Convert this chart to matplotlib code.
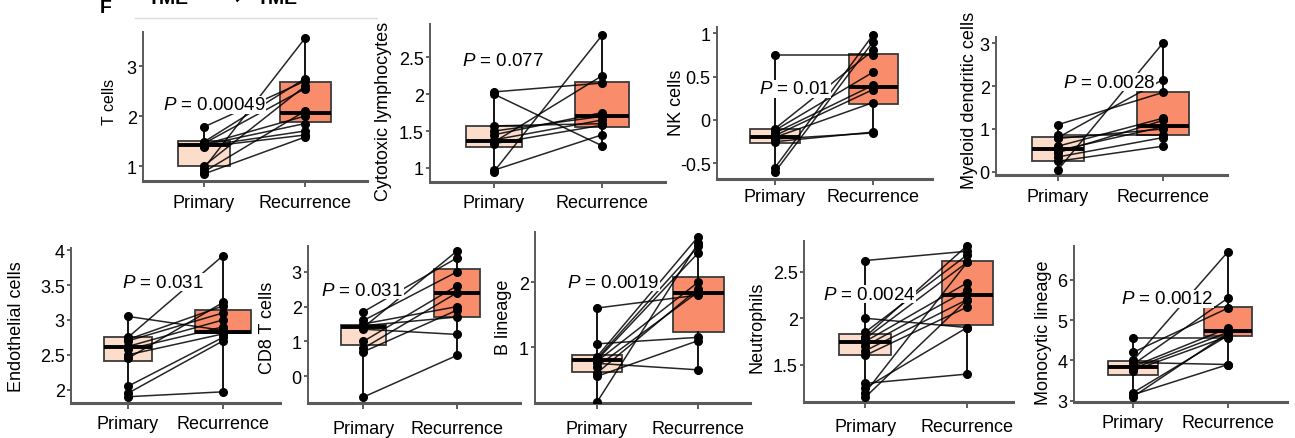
import matplotlib
matplotlib.use('Agg')
import matplotlib.pyplot as plt
from matplotlib.lines import Line2D

plt.rcParams['font.family'] = ['Liberation Sans', 'DejaVu Sans']
plt.rcParams['mathtext.fontset'] = 'custom'
plt.rcParams['mathtext.it'] = 'Liberation Sans:italic'
plt.rcParams['mathtext.rm'] = 'Liberation Sans'

# ---------------- data ----------------
groups = ['Primary', 'Recurrence']
cell_types = ['T cells', 'Cytotoxic lymphocytes', 'NK cells', 'Myeloid dendritic cells',
              'Endothelial cells', 'CD8 T cells', 'B lineage', 'Neutrophils', 'Monocytic lineage']
p_values = ['0.00049', '0.077', '0.01', '0.0028', '0.031', '0.031', '0.0019', '0.0024', '0.0012']

# paired samples (index i in primary pairs with index i in recurrence)
t_cells_primary = [1.78, 1.48, 1.45, 1.43, 1.42, 1.40, 1.38, 1.00, 0.95, 0.88, 0.84]
t_cells_recurrence = [2.70, 2.75, 2.55, 2.00, 1.85, 1.70, 1.62, 2.60, 3.56, 2.10, 1.58]
cytotoxic_primary = [2.03, 2.00, 1.57, 1.50, 1.45, 1.38, 1.35, 1.33, 0.97, 0.95]
cytotoxic_recurrence = [2.15, 1.30, 1.60, 1.70, 1.75, 1.65, 2.25, 1.58, 1.45, 2.80]
nk_primary = [0.75, -0.10, -0.12, -0.15, -0.18, -0.20, -0.22, -0.25, -0.55, -0.60]
nk_recurrence = [0.75, 0.80, 0.55, 0.40, 0.35, 0.20, -0.15, -0.14, 0.98, 0.90]
myeloid_dc_primary = [1.10, 0.85, 0.80, 0.78, 0.60, 0.50, 0.45, 0.35, 0.25, 0.05]
myeloid_dc_recurrence = [1.85, 0.85, 2.15, 1.00, 1.25, 1.05, 1.20, 0.80, 0.60, 3.00]
endothelial_primary = [3.05, 2.75, 2.72, 2.70, 2.62, 2.58, 2.50, 2.45, 2.05, 1.95, 1.90]
endothelial_recurrence = [2.85, 3.92, 3.20, 3.10, 3.00, 2.90, 2.80, 3.25, 2.75, 2.70, 1.97]
cd8_primary = [1.85, 1.60, 1.50, 1.45, 1.40, 1.35, 1.00, 0.80, 0.70, -0.60]
cd8_recurrence = [3.40, 3.00, 2.00, 1.70, 3.60, 1.20, 2.60, 2.40, 1.90, 0.60]
b_lineage_primary = [1.60, 1.05, 0.85, 0.82, 0.80, 0.78, 0.75, 0.70, 0.60, 0.55, 0.15]
b_lineage_recurrence = [1.80, 1.15, 2.70, 2.55, 2.45, 2.00, 0.65, 1.85, 1.90, 1.10, 2.60]
neutrophils_primary = [2.62, 2.00, 1.85, 1.80, 1.78, 1.75, 1.70, 1.65, 1.60, 1.30, 1.25, 1.20, 1.15]
neutrophils_recurrence = [2.72, 1.90, 2.68, 2.78, 2.60, 2.38, 2.30, 2.20, 2.12, 1.40, 1.90, 2.60, 2.20]
monocytic_primary = [4.55, 4.20, 4.00, 3.95, 3.90, 3.85, 3.80, 3.75, 3.20, 3.15, 3.10]
monocytic_recurrence = [4.55, 5.30, 6.70, 3.90, 5.55, 4.80, 4.70, 4.60, 4.62, 3.90, 4.68]

# box statistics: [q1, median, q3]
box_primary = [[1.00, 1.43, 1.50], [1.29, 1.36, 1.57], [-0.27, -0.20, -0.10], [0.26, 0.53, 0.81],
               [2.41, 2.61, 2.76], [0.91, 1.40, 1.46], [0.62, 0.80, 0.88], [1.61, 1.74, 1.83],
               [3.63, 3.83, 3.98]]
box_recurrence = [[1.88, 2.07, 2.68], [1.55, 1.71, 2.17], [0.18, 0.38, 0.76], [0.86, 1.07, 1.86],
                  [2.81, 2.83, 3.14], [1.71, 2.40, 3.09], [1.23, 1.83, 2.08], [1.93, 2.25, 2.61],
                  [4.60, 4.72, 5.32]]

y_ticks = [[1, 2, 3], [1, 1.5, 2, 2.5], [-0.5, 0, 0.5, 1], [0, 1, 2, 3],
           [2, 2.5, 3, 3.5, 4], [0, 1, 2, 3], [1, 2], [1.5, 2, 2.5], [3, 4, 5, 6]]

primary_values = [t_cells_primary, cytotoxic_primary, nk_primary, myeloid_dc_primary,
                  endothelial_primary, cd8_primary, b_lineage_primary, neutrophils_primary,
                  monocytic_primary]
recurrence_values = [t_cells_recurrence, cytotoxic_recurrence, nk_recurrence, myeloid_dc_recurrence,
                     endothelial_recurrence, cd8_recurrence, b_lineage_recurrence,
                     neutrophils_recurrence, monocytic_recurrence]

# ---------------- layout (pixels) ----------------
W, H = 1295, 439
# (x_left, x_right, y_top, y_bottom)
rects = [(143, 367, 33, 182), (430, 665, 25, 183), (717, 932, 28, 180), (996, 1227, 38, 176),
         (71, 280, 249, 404), (308, 520, 247, 404), (535, 750, 233, 404), (804, 1013, 242, 403),
         (1074, 1287, 247, 403)]
xlims = [(-0.60, 1.61), (-0.59, 1.58), (-0.59, 1.60), (-0.59, 1.61),
         (-0.60, 1.60), (-0.59, 1.67), (-0.61, 1.51), (-0.60, 1.45), (-0.62, 1.62)]
ylims = [(0.70, 3.68), (0.81, 2.95), (-0.68, 1.07), (-0.07, 3.14),
         (1.81, 4.03), (-0.77, 3.74), (0.14, 2.77), (1.10, 2.83), (2.97, 6.84)]
ylabel_pos = [(110, 102), (384, 111), (676, 103), (969, 100),
              (17, 327), (268, 328), (503, 317), (757, 327), (1043, 333)]
ylabel_size = [11.5, 13, 13, 13, 13, 13, 13, 13, 13]
ptext_pos = [(163, 106), (462, 62), (759, 90), (1063, 83),
             (122, 283), (321, 291), (567, 283), (823, 295), (1121, 300)]
xpads = [5, 4.3, 2.8, 5, 5, 8.6, 8.6, 7.2, 4.3]
box_widths = [(0.51, 0.5), (0.51, 0.5), (0.51, 0.5), (0.5, 0.5), (0.5, 0.58),
              (0.48, 0.49), (0.5, 0.5), (0.51, 0.5), (0.52, 0.5)]

primary_color = '#FCDCCB'
recurrence_color = '#F98D6B'
spine_color = '#5a5a5a'

fig = plt.figure(figsize=(W / 100, H / 100), dpi=100)

for i in range(9):
    xl, xr, yt, yb = rects[i]
    ax = fig.add_axes([xl / W, 1 - yb / H, (xr - xl) / W, (yb - yt) / H])
    prim = primary_values[i]
    rec = recurrence_values[i]
    stats = []
    for vals, b in ((prim, box_primary[i]), (rec, box_recurrence[i])):
        stats.append(dict(q1=b[0], med=b[1], q3=b[2], whislo=min(vals), whishi=max(vals), fliers=[]))
    for pos, st, w, col in ((0, stats[0], box_widths[i][0], primary_color),
                            (1, stats[1], box_widths[i][1], recurrence_color)):
        ax.bxp([st], positions=[pos], widths=w, patch_artist=True, showcaps=False,
               showfliers=False, manage_ticks=False,
               boxprops=dict(edgecolor='#3a3a3a', linewidth=1.3, facecolor=col),
               medianprops=dict(color='black', linewidth=2.8),
               whiskerprops=dict(color='black', linewidth=1.3))
    for p, r in zip(prim, rec):
        ax.plot([0, 1], [p, r], color='black', lw=1.1, alpha=0.85, zorder=3)
    ax.plot([0] * len(prim), prim, 'o', color='black', ms=5.5, zorder=4)
    ax.plot([1] * len(rec), rec, 'o', color='black', ms=5.5, zorder=4)

    ax.set_xlim(*xlims[i])
    ax.set_ylim(*ylims[i])
    ax.set_xticks([0, 1], groups)
    ax.set_yticks(y_ticks[i], [f'{v:g}' for v in y_ticks[i]])
    ax.tick_params(axis='x', length=4, width=1.2, color='#444444', pad=xpads[i], labelsize=13)
    ax.tick_params(axis='y', length=3, width=1.2, color='#444444', pad=1.5, labelsize=13)
    for s in ('top', 'right'):
        ax.spines[s].set_visible(False)
    ax.spines['left'].set_color(spine_color)
    ax.spines['left'].set_linewidth(1.4)
    ax.spines['bottom'].set_color(spine_color)
    ax.spines['bottom'].set_linewidth(2.2)
    ax.patch.set_alpha(0)

    ax.set_ylabel(cell_types[i], fontsize=ylabel_size[i], va='center', ha='center')
    lx, ly = ylabel_pos[i]
    ax.yaxis.set_label_coords(lx / W, 1 - ly / H, transform=fig.transFigure)

    tx, ty = ptext_pos[i]
    fig.text(tx / W, 1 - ty / H, r'$P$ = ' + p_values[i], fontsize=13.5, ha='left', va='center',
             bbox=dict(facecolor='white', edgecolor='none', pad=0.5), zorder=5)

# panel letter and header (cut at the top edge, as in the reference)
fig.text(100 / W, 1 - 13 / H, 'F', fontsize=14, fontweight='bold', ha='left', va='baseline')
fig.text(148 / W, 1 - 4 / H, 'TME', fontsize=14, fontweight='bold', ha='left', va='baseline')
fig.text(242 / W, 1 + 2 / H, '\u2192', fontsize=16, fontweight='bold', ha='right', va='center',
         family=['DejaVu Sans'])
fig.text(257 / W, 1 - 4 / H, 'TME', fontsize=14, fontweight='bold', ha='left', va='baseline')
fig.add_artist(Line2D([135 / W, 377 / W], [1 - 19 / H, 1 - 19 / H], color='#dcdcdc', lw=1))

fig.savefig('out.png', dpi=100)
